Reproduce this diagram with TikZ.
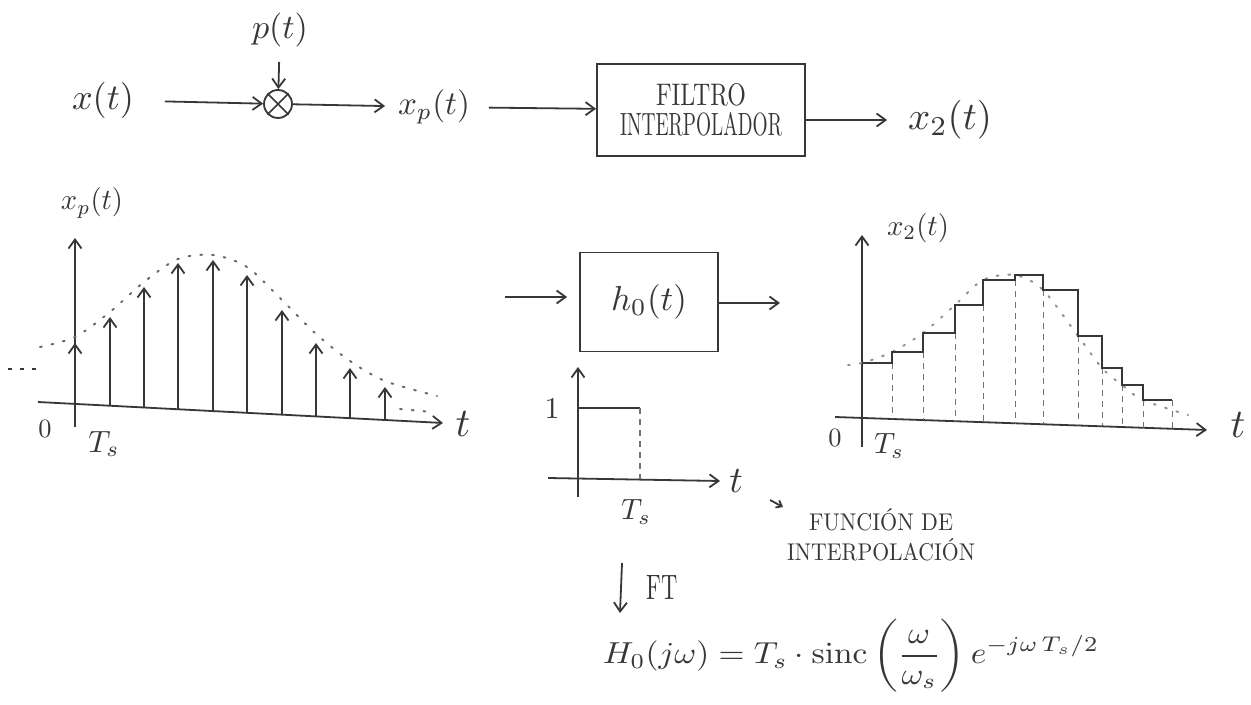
\documentclass[tikz,border=0pt]{standalone}
\usetikzlibrary{arrows.meta,calc}
\definecolor{ink}{RGB}{55,55,55}
\newcommand{\fw}[2]{\resizebox{#1}{!}{#2}}
\newcommand{\fh}[2]{\resizebox{!}{#1}{#2}}
\begin{document}
\begin{tikzpicture}[x=0.5pt,y=-0.5pt,line width=0.9pt,color=ink,
  >={Straight Barb[length=4.5pt,width=6.5pt]},
  lbl/.style={inner sep=1pt},
  blockbox/.style={draw,inner sep=2pt,align=center},
  envelope/.style={line width=1pt,dash pattern=on 0.9pt off 5pt,line cap=round,color=ink!75},
  guide/.style={line width=0.5pt,dash pattern=on 3pt off 2.5pt,color=ink!70},
  smallarrow/.style={->,>={Straight Barb[length=2.5pt,width=4pt]}}]
\useasboundingbox[fill=white] (0,0) rectangle (1251,705);

% ---------------- top block diagram ----------------
\node[lbl] (x) at (103,100) {\fw{31pt}{$x(t)$}};
\node[circle,draw,minimum size=14pt,inner sep=0pt] (mul) at (278,104) {};
\draw[line width=0.8pt] (mul.north west) -- (mul.south east) (mul.north east) -- (mul.south west);
\node[lbl] (p) at (280,30) {\fw{28pt}{$p(t)$}};
\draw[->,shorten <=6pt] (p) -- (mul);
\draw[->,shorten <=14pt] (x) -- (mul);
\node[lbl] (xp) at (434,107) {\fw{36pt}{$x_p(t)$}};
\draw[->,shorten >=5pt] (mul) -- (xp);
\node[blockbox,minimum width=104pt,minimum height=46pt] (filt) at (701,110)
  {\resizebox{45pt}{11pt}{FILTRO}\\[3pt]\resizebox{81pt}{11.5pt}{INTERPOLADOR}};
\draw[->,shorten <=8pt] (xp) -- (filt);
\node[lbl] (x2) at (950,120) {\fw{42pt}{$x_2(t)$}};
\draw[->,shorten >=9pt] (filt.east |- x2) -- (x2);

% ---------------- left plot: sampled signal ----------------
\node[lbl] (xplbl) at (92,203) {\resizebox{31pt}{11pt}{$x_p(t)$}};
\draw[->] (38,402) -- (443,423);
\draw[->] (75,427) -- (75,238);
\foreach \xx/\tt in {75/343,110/317,144/287,178/263,213/260,247/275,282/310,316/343,350/368,385/387}{
  \draw[->] (\xx,{402+0.0519*(\xx-38)}) -- (\xx,\tt);
}
\draw[envelope] plot[smooth] coordinates {(40,347) (75,337) (110,312) (144,282) (178,259) (213,255) (247,267) (282,300) (316,334) (350,361) (385,381) (437,396)};
\draw[envelope] (400,409) -- (432,412);
\draw[line width=0.8pt,dash pattern=on 2pt off 4pt] (8,369) -- (42,369);
\node[lbl] (o1) at (45,429) {\fh{8.5pt}{$0$}};
\node[lbl] (ts1) at (104,444) {\fh{10.5pt}{$T_s$}};
\node[lbl] (t1) at (463,424) {\fh{12.5pt}{$t$}};

% ---------------- middle: ZOH block ----------------
\node[blockbox,minimum width=69pt,minimum height=49.5pt] (h0) at (649,302) {\resizebox{38pt}{13pt}{$h_0(t)$}};
\coordinate (hin) at (505,297);
\coordinate (hout) at (780,303);
\draw[->,shorten >=6pt] (hin) -- (h0.west |- hin);
\draw[->] (h0.east |- hout) -- (hout);

% small plot of h0(t)
\draw[->] (578,497) -- (578,367);
\draw[->] (548,478) -- (720,481);
\draw (578,408) -- (640,408);
\draw[guide,line width=0.7pt] (640,408) -- (640,479);
\node[lbl] (one) at (552,408) {\fh{10pt}{1}};
\node[lbl] (t2) at (736,481) {\fh{11.5pt}{$t$}};
\node[lbl] (ts2) at (636,512) {\fh{10pt}{$T_s$}};

% label: interpolation function
\node[lbl,align=center] (func) at (881,535)
  {\resizebox{72pt}{11pt}{FUNCIÓN DE}\\[3pt]\resizebox{94pt}{11pt}{INTERPOLACIÓN}};
\coordinate (fa) at (770,500);
\coordinate (fb) at (783,507);
\draw[smallarrow] (fa) -- (fb);

% Fourier transform
\coordinate (fta) at (622,563);
\coordinate (ftb) at (620,613);
\draw[->] (fta) -- (ftb);
\node[lbl] (ft) at (662,587) {\resizebox{15.5pt}{12pt}{FT}};
\node[lbl] (Hf) at (851,656) {\resizebox{248pt}{22pt}{$\displaystyle H_0(j\omega) = T_s\cdot \mathrm{sinc}\left(\frac{\omega}{\omega_s}\right) e^{-j\omega\, T_s/2}$}};

% ---------------- right plot: staircase output ----------------
\node[lbl] (x2lbl) at (918,228) {\resizebox{31pt}{11pt}{$x_2(t)$}};
\draw[->] (862,447) -- (862,235);
\draw[->] (835,417) -- (1207,430);
\draw[envelope,color=ink!55] plot[smooth] coordinates {(848,365) (862,363) (892,352) (923,333) (955,305) (983,280) (1015,275) (1043,290) (1078,336) (1102,368) (1122,385) (1143,400) (1188,415)};
\foreach \xx/\yy in {892/363,923/352,955/333,983/305,1015/280,1043/290,1078/336,1102/368,1122/385,1143/400,1172/400}{
  \draw[guide] (\xx,\yy) -- (\xx,{417+0.035*(\xx-835)});
}
\draw (862,363) -- (892,363) -- (892,352) -- (923,352) -- (923,333) -- (955,333) -- (955,305) -- (983,305) -- (983,280) -- (1015,280) -- (1015,275) -- (1043,275) -- (1043,290) -- (1078,290) -- (1078,336) -- (1102,336) -- (1102,368) -- (1122,368) -- (1122,385) -- (1143,385) -- (1143,400) -- (1172,400);
\node[lbl] (o2) at (835,438) {\fh{8.5pt}{$0$}};
\node[lbl] (ts3) at (889,446) {\fh{10pt}{$T_s$}};
\node[lbl] (t3) at (1238,425) {\fh{12.5pt}{$t$}};
\end{tikzpicture}
\end{document}
